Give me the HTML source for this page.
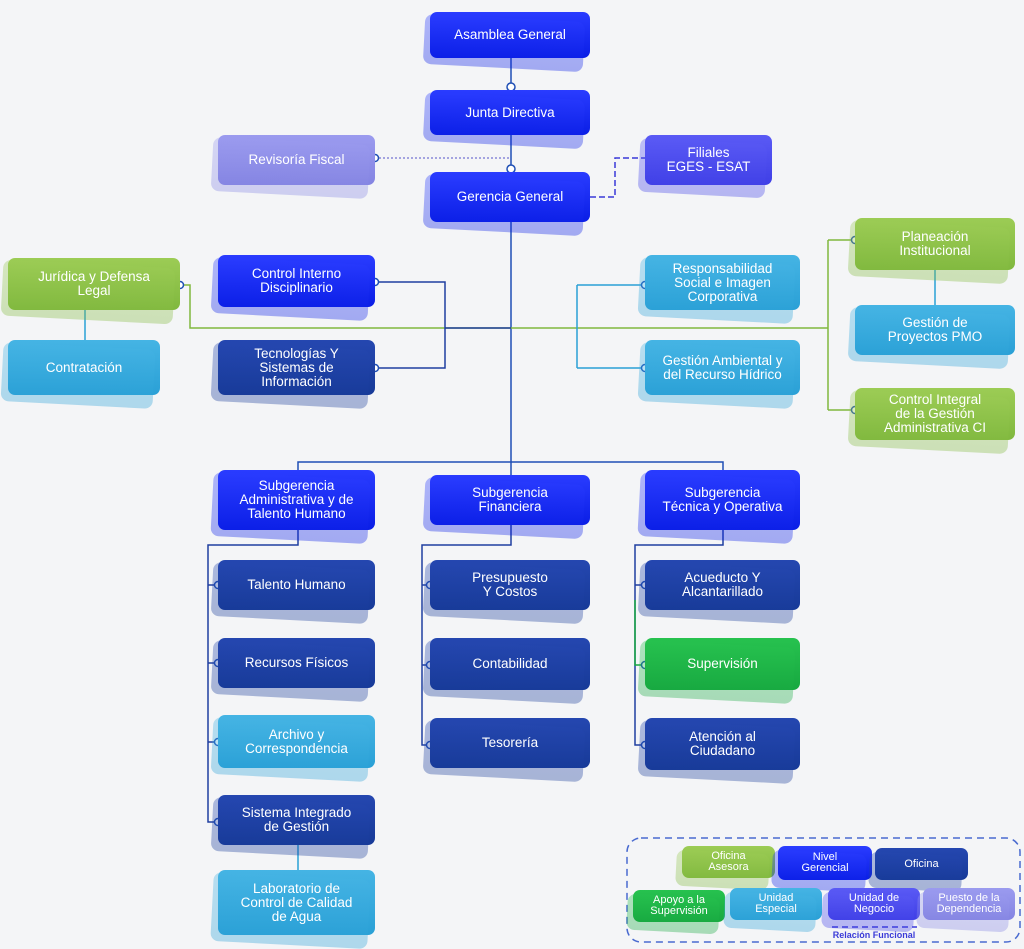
<!DOCTYPE html>
<html><head><meta charset="utf-8"><style>
body{margin:0;width:1024px;height:946px;background:#f4f5f7;position:relative;overflow:hidden;font-family:"Liberation Sans",sans-serif}
.b{position:absolute;display:flex;align-items:center;justify-content:center;text-align:center;color:#fff;font-size:13.5px;line-height:14px;border-radius:7px;box-sizing:border-box;padding:0 4px;z-index:2}
.b::before{content:"";position:absolute;left:-6px;top:6px;right:6px;bottom:-10px;border-radius:8px;background:inherit;opacity:.35;transform:rotate(3deg);z-index:-1}
.bl{background:linear-gradient(#2a3cff,#0a1ee6)}
.dk{background:linear-gradient(#2547b0,#173a98)}
.lb{background:linear-gradient(#45b4e4,#2aa0d6)}
.gr{background:linear-gradient(#9ccc55,#80b83e)}
.gg{background:linear-gradient(#27c24f,#17a840)}
.un{background:linear-gradient(#5a5af5,#3f3fe6)}
.pu{background:linear-gradient(#9b9bef,#8484e2)}
.s{font-size:11px;line-height:11px}
svg{position:absolute;left:0;top:0;z-index:1}
</style></head><body>
<svg width="1024" height="946">
<g fill="none" stroke-width="1.5">
<path d="M511 58V470M298 470V462H723V470M511 462V475" stroke="#1f4fb5"/>
<path d="M375 158H511" stroke="#8a8ad8" stroke-dasharray="2 2"/>
<path d="M590 197H615V158H645" stroke="#3a3ad8" stroke-dasharray="6 3"/>
<path d="M180 285H190V328H828M828 240V410M828 240H855M828 410H855" stroke="#80b83e"/>
<path d="M935 270V305" stroke="#2aa0d6"/>
<path d="M85 310V340" stroke="#2aa0d6"/>
<path d="M577 285V368M577 285H645M577 368H645" stroke="#2aa0d6"/>
<path d="M375 282H445V368H375M445 328H511" stroke="#1f3fa0"/>
<path d="M298 530V545H208V822H218M208 585H218M208 663H218M208 742H218" stroke="#1f3fa0"/>
<path d="M298 845V870" stroke="#2aa0d6"/>
<path d="M511 525V545H422V745H430M422 585H430M422 665H430" stroke="#1f3fa0"/>
<path d="M723 530V545H635V745H645M635 585H645" stroke="#1f3fa0"/>
<path d="M635 600V665H645" stroke="#17a840"/>
</g>
<rect x="627" y="838" width="393" height="104" rx="14" fill="none" stroke="#4a6bd0" stroke-width="1.5" stroke-dasharray="7 5"/>
<path d="M832 927H917" stroke="#3a3ad8" stroke-width="1.5" stroke-dasharray="6 4"/>
<text x="874" y="938" font-size="9" fill="#3a3ad8" text-anchor="middle" font-family="Liberation Sans" font-weight="bold">Relación Funcional</text>
<g fill="#fff" stroke="#1f4fb5" stroke-width="1.5">
<circle cx="511" cy="87" r="4"/><circle cx="511" cy="169" r="4"/><circle cx="375" cy="158" r="3.5"/><circle cx="375" cy="282" r="3.5"/><circle cx="375" cy="368" r="3.5"/><circle cx="180" cy="285" r="3.5"/><circle cx="645" cy="285" r="3.5"/><circle cx="645" cy="368" r="3.5"/><circle cx="855" cy="240" r="3.5"/><circle cx="855" cy="410" r="3.5"/><circle cx="218" cy="585" r="3.5"/><circle cx="218" cy="663" r="3.5"/><circle cx="218" cy="742" r="3.5"/><circle cx="218" cy="822" r="3.5"/><circle cx="430" cy="585" r="3.5"/><circle cx="430" cy="665" r="3.5"/><circle cx="430" cy="745" r="3.5"/><circle cx="645" cy="585" r="3.5"/><circle cx="645" cy="665" r="3.5"/><circle cx="645" cy="745" r="3.5"/>
</g>
</svg>
<div class="b bl" style="left:430px;top:12px;width:160px;height:46px">Asamblea General</div>
<div class="b bl" style="left:430px;top:90px;width:160px;height:45px">Junta Directiva</div>
<div class="b bl" style="left:430px;top:172px;width:160px;height:50px">Gerencia General</div>
<div class="b pu" style="left:218px;top:135px;width:157px;height:50px">Revisoría Fiscal</div>
<div class="b un" style="left:645px;top:135px;width:127px;height:50px">Filiales<br>EGES - ESAT</div>
<div class="b gr" style="left:8px;top:258px;width:172px;height:52px">Jurídica y Defensa<br>Legal</div>
<div class="b lb" style="left:8px;top:340px;width:152px;height:55px">Contratación</div>
<div class="b bl" style="left:218px;top:255px;width:157px;height:52px">Control Interno<br>Disciplinario</div>
<div class="b dk" style="left:218px;top:340px;width:157px;height:55px">Tecnologías Y<br>Sistemas de<br>Información</div>
<div class="b lb" style="left:645px;top:255px;width:155px;height:55px">Responsabilidad<br>Social e Imagen<br>Corporativa</div>
<div class="b lb" style="left:645px;top:340px;width:155px;height:55px">Gestión Ambiental y<br>del Recurso Hídrico</div>
<div class="b gr" style="left:855px;top:218px;width:160px;height:52px">Planeación<br>Institucional</div>
<div class="b lb" style="left:855px;top:305px;width:160px;height:50px">Gestión de<br>Proyectos PMO</div>
<div class="b gr" style="left:855px;top:388px;width:160px;height:52px">Control Integral<br>de la Gestión<br>Administrativa CI</div>
<div class="b bl" style="left:218px;top:470px;width:157px;height:60px">Subgerencia<br>Administrativa y de<br>Talento Humano</div>
<div class="b bl" style="left:430px;top:475px;width:160px;height:50px">Subgerencia<br>Financiera</div>
<div class="b bl" style="left:645px;top:470px;width:155px;height:60px">Subgerencia<br>Técnica y Operativa</div>
<div class="b dk" style="left:218px;top:560px;width:157px;height:50px">Talento Humano</div>
<div class="b dk" style="left:218px;top:638px;width:157px;height:50px">Recursos Físicos</div>
<div class="b lb" style="left:218px;top:715px;width:157px;height:53px">Archivo y<br>Correspondencia</div>
<div class="b dk" style="left:218px;top:795px;width:157px;height:50px">Sistema Integrado<br>de Gestión</div>
<div class="b lb" style="left:218px;top:870px;width:157px;height:65px">Laboratorio de<br>Control de Calidad<br>de Agua</div>
<div class="b dk" style="left:430px;top:560px;width:160px;height:50px">Presupuesto<br>Y Costos</div>
<div class="b dk" style="left:430px;top:638px;width:160px;height:52px">Contabilidad</div>
<div class="b dk" style="left:430px;top:718px;width:160px;height:50px">Tesorería</div>
<div class="b dk" style="left:645px;top:560px;width:155px;height:50px">Acueducto Y<br>Alcantarillado</div>
<div class="b gg" style="left:645px;top:638px;width:155px;height:52px">Supervisión</div>
<div class="b dk" style="left:645px;top:718px;width:155px;height:52px">Atención al<br>Ciudadano</div>
<div class="b gr s" style="left:682px;top:846px;width:93px;height:32px">Oficina<br>Asesora</div>
<div class="b bl s" style="left:778px;top:846px;width:94px;height:34px">Nivel<br>Gerencial</div>
<div class="b dk s" style="left:875px;top:848px;width:93px;height:32px">Oficina</div>
<div class="b gg s" style="left:633px;top:890px;width:92px;height:32px">Apoyo a la<br>Supervisión</div>
<div class="b lb s" style="left:730px;top:888px;width:92px;height:32px">Unidad<br>Especial</div>
<div class="b un s" style="left:828px;top:888px;width:92px;height:32px">Unidad de<br>Negocio</div>
<div class="b pu s" style="left:923px;top:888px;width:92px;height:32px">Puesto de la<br>Dependencia</div>
</body></html>
